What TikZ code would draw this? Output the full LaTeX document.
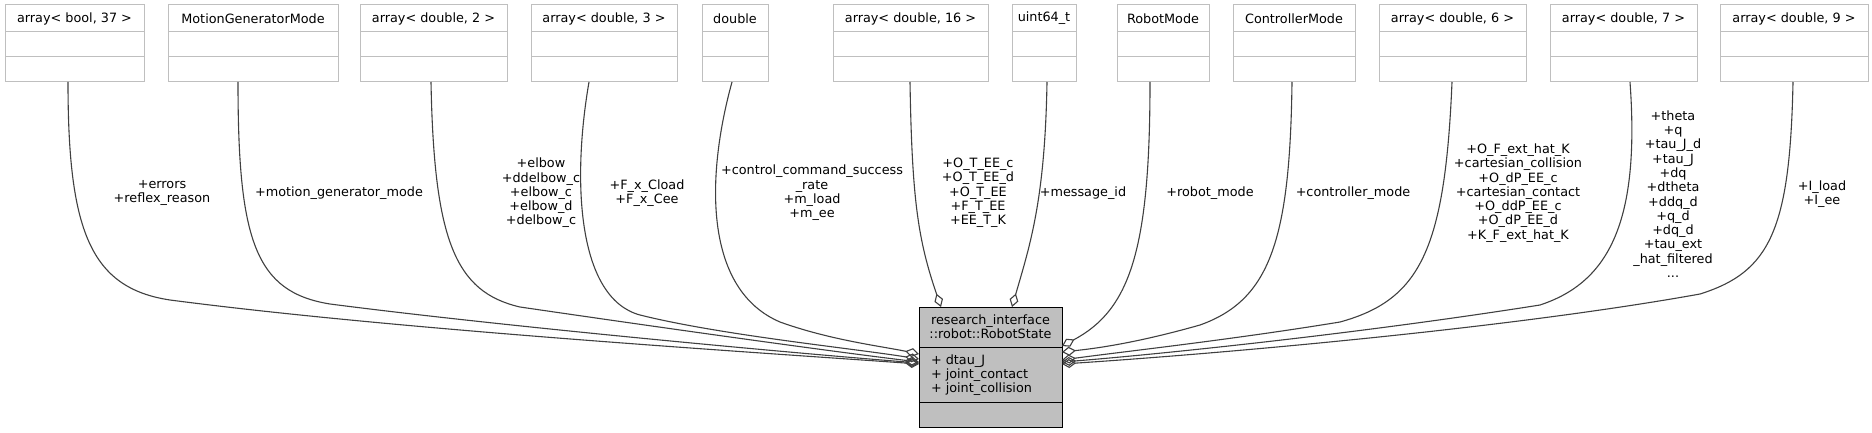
\documentclass[tikz,border=0pt]{standalone}
\usepackage{fontspec}
\setmainfont{DejaVu Sans}
\usetikzlibrary{arrows.meta,calc}
\definecolor{boxgray}{HTML}{BFBFBF}
\definecolor{edgegray}{HTML}{404040}
\newcommand\mktopbox[4]{%
  \node[topbox, minimum width=#3-#2, minimum height=77, anchor=north west] (#1) at (#2,5) {};
  \draw[boxgray, line width=1pt] (#2,32) -- (#3,32);
  \draw[boxgray, line width=1pt] (#2,57) -- (#3,57);
  \node (#1t) at ({(#2+#3)/2},18.5) {#4};
}
\begin{document}
\begin{tikzpicture}[x=1pt,y=-1pt,
  every node/.style={font=\fontsize{12.8}{14.3}\selectfont, inner sep=0pt, outer sep=0pt},
  topbox/.style={draw=boxgray, fill=white, line width=1pt},
  lbl/.style={align=center, text=black},
  agg/.style={draw=edgegray, line width=1.1pt, -{Diamond[open,length=14pt,width=9pt]}},
]
\useasboundingbox[fill=white] (0,0) rectangle (1872,433);

\mktopbox{b1}{5}{144}{array< bool, 37 >}
\mktopbox{b2}{168}{338}{MotionGeneratorMode}
\mktopbox{b3}{360}{507}{array< double, 2 >}
\mktopbox{b4}{531}{677}{array< double, 3 >}
\mktopbox{b5}{702}{768}{double}
\mktopbox{b6}{833}{988}{array< double, 16 >}
\mktopbox{b7}{1012}{1076}{uint64\_t}
\mktopbox{b8}{1117}{1209}{RobotMode}
\mktopbox{b9}{1233}{1355}{ControllerMode}
\mktopbox{b10}{1379}{1526}{array< double, 6 >}
\mktopbox{b11}{1550}{1697}{array< double, 7 >}
\mktopbox{b12}{1720}{1868}{array< double, 9 >}

% central class
\node[draw=black, fill=boxgray, line width=1pt, minimum width=143, minimum height=120, anchor=north west] (c) at (919,307) {};
\draw[black, line width=1pt] (919,347) -- (1062,347);
\draw[black, line width=1pt] (919,402) -- (1062,402);
\node[align=center] (ch) at (990.5,327) {research\_interface\\::robot::RobotState};
\node[align=left, anchor=west] (ca) at (931,375) {+ dtau\_J\\+ joint\_contact\\+ joint\_collision};

% edges
\draw[agg] ($(b1.south west)+(63,0)$) .. controls (68,230) and (90,288) .. (170,300)
  .. controls (400,330) and (750,352) .. ($(c.north west)+(0,57)$);
\draw[agg] ($(b2.south west)+(70,0)$) .. controls (238,240) and (255,292) .. (330,304)
  .. controls (500,326) and (780,352) .. ($(c.north west)+(0,56)$);
\draw[agg] ($(b3.south west)+(71,0)$) .. controls (434,240) and (455,292) .. (520,307)
  .. controls (650,326) and (820,350) .. ($(c.north west)+(0,55)$);
\draw[agg] ($(b4.south west)+(58,0)$) .. controls (572,180) and (577,298) .. (640,315)
  .. controls (720,335) and (850,348) .. ($(c.north west)+(0,52)$);
\draw[agg] ($(b5.south west)+(30,0)$) .. controls (705,180) and (705,290) .. (780,322)
  .. controls (830,340) and (880,346) .. ($(c.north west)+(0,47)$);
\draw[agg] ($(b6.south west)+(77,0)$) .. controls (912,200) and (918,240) .. ($(c.north west)+(22,0)$);
\draw[agg] ($(b7.south west)+(35,0)$) .. controls (1045,200) and (1030,245) .. ($(c.north west)+(93,0)$);
\draw[agg] ($(b8.south west)+(33,0)$) .. controls (1150,250) and (1130,310) .. ($(c.north east)+(0,39)$);
\draw[agg] ($(b9.south west)+(59,0)$) .. controls (1290,240) and (1270,300) .. (1200,325)
  .. controls (1140,342) and (1100,348) .. ($(c.north east)+(0,45)$);
\draw[agg] ($(b10.south west)+(73,0)$) .. controls (1445,250) and (1420,300) .. (1340,322)
  .. controls (1230,340) and (1120,352) .. ($(c.north east)+(0,53)$);
\draw[agg] ($(b11.south west)+(80,0)$) .. controls (1640,220) and (1610,282) .. (1540,305)
  .. controls (1350,335) and (1150,355) .. ($(c.north east)+(0,55)$);
\draw[agg] ($(b12.south west)+(73,0)$) .. controls (1790,230) and (1770,272) .. (1700,294)
  .. controls (1500,330) and (1200,355) .. ($(c.north east)+(0,57)$);

% edge labels
\node[lbl] (l1) at (162,193) {+errors\\+reflex\_reason};
\node[lbl] (l2) at (339,193) {+motion\_generator\_mode};
\node[lbl] (l3) at (541,193) {+elbow\\+ddelbow\_c\\+elbow\_c\\+elbow\_d\\+delbow\_c};
\node[lbl] (l4) at (647,193) {+F\_x\_Cload\\+F\_x\_Cee};
\node[lbl] (l5) at (812,193) {+control\_command\_success\\\_rate\\+m\_load\\+m\_ee};
\node[lbl] (l6) at (978,193) {+O\_T\_EE\_c\\+O\_T\_EE\_d\\+O\_T\_EE\\+F\_T\_EE\\+EE\_T\_K};
\node[lbl] (l7) at (1083,193) {+message\_id};
\node[lbl] (l8) at (1210,193) {+robot\_mode};
\node[lbl] (l9) at (1353,193) {+controller\_mode};
\node[lbl] (l10) at (1518,193) {+O\_F\_ext\_hat\_K\\+cartesian\_collision\\+O\_dP\_EE\_c\\+cartesian\_contact\\+O\_ddP\_EE\_c\\+O\_dP\_EE\_d\\+K\_F\_ext\_hat\_K};
\node[lbl] (l11) at (1673,194) {+theta\\+q\\+tau\_J\_d\\+tau\_J\\+dq\\+dtheta\\+ddq\_d\\+q\_d\\+dq\_d\\+tau\_ext\\\_hat\_filtered\\...};
\node[lbl] (l12) at (1822,194) {+I\_load\\+I\_ee};
\end{tikzpicture}
\end{document}
